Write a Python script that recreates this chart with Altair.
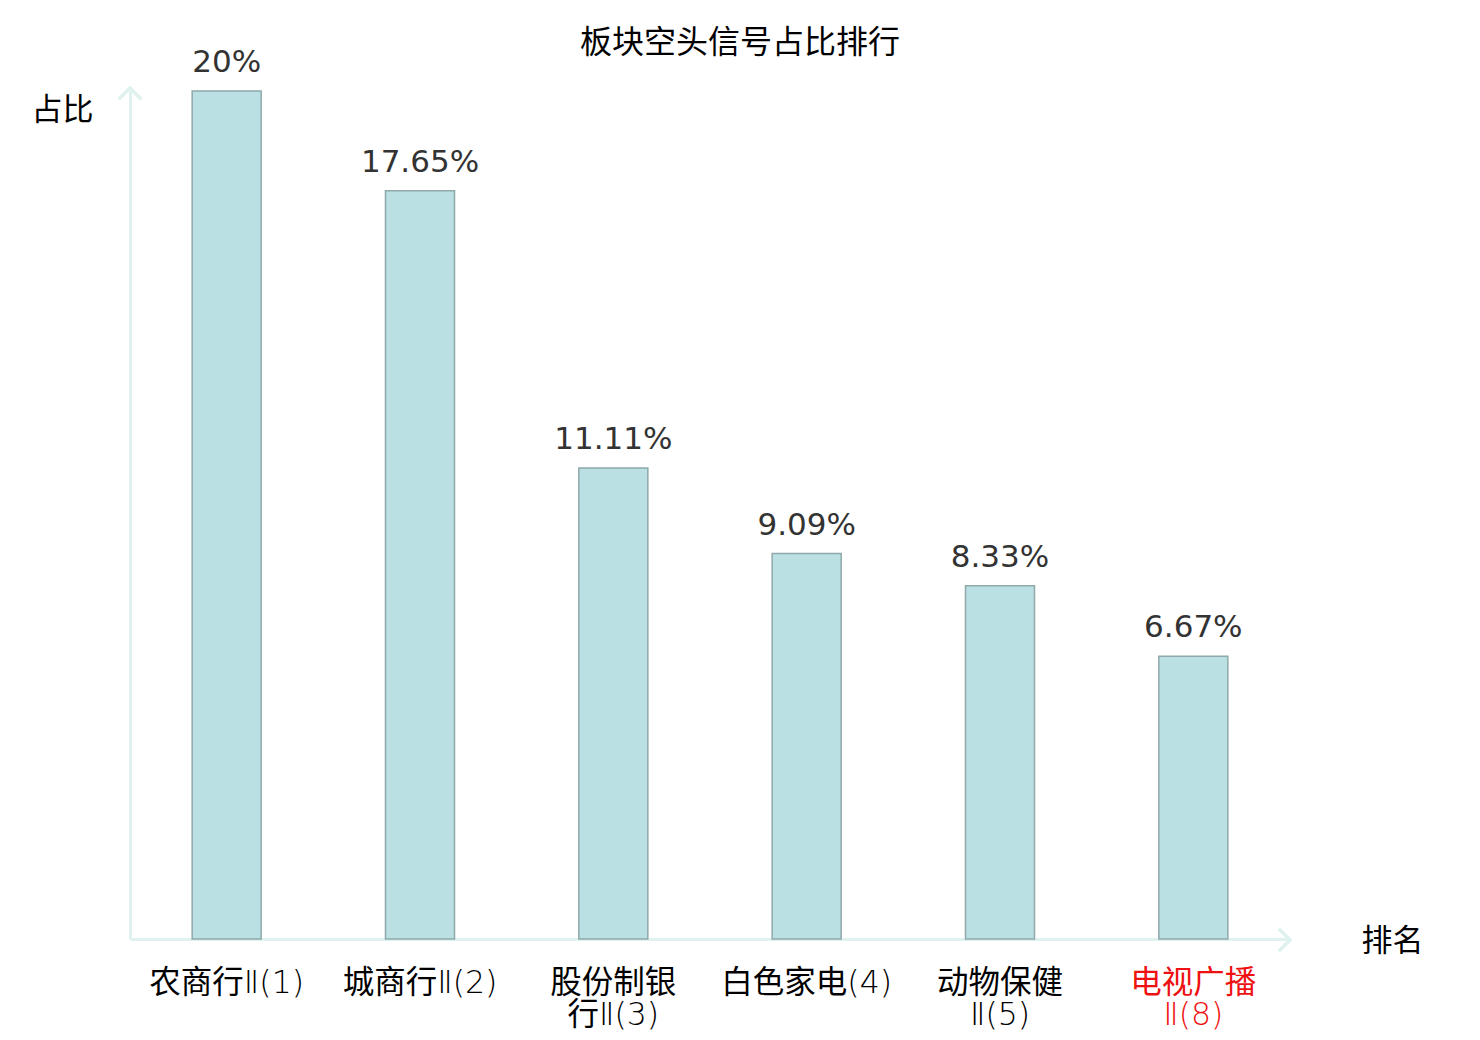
import altair as alt
import pandas as pd

categories = ["农商行Ⅱ(1)", "城商行Ⅱ(2)", "股份制银|行Ⅱ(3)", "白色家电(4)", "动物保健|Ⅱ(5)", "电视广播|Ⅱ(8)"]
values = [20, 17.65, 11.11, 9.09, 8.33, 6.67]
highlight = "电视广播|Ⅱ(8)"

df = pd.DataFrame({"name": categories, "value": values})

AXIS_COLOR = "#dff2ef"
CJK = "Noto Sans CJK SC"
LABEL_FONT = "'DejaVu Sans Light', 'DejaVu Sans', 'Noto Sans CJK SC'"

x_enc = alt.X(
    "name:N",
    sort=None,
    scale=alt.Scale(paddingInner=0.643, paddingOuter=0.3215),
    axis=alt.Axis(
        title="排名",
        titleFont=CJK,
        titleFontSize=31,
        titleFontWeight="normal",
        titleColor="#000000",
        titleAngle=0,
        titleAlign="left",
        titleBaseline="middle",
        titleX=1231,
        titleY=2,
        labelAngle=0,
        labelFont=LABEL_FONT,
        labelFontSize=31.5,
        labelLineHeight=32,
        labelPadding=28,
        labelBaseline="top",
        labelExpr="split(datum.label, '|')",
        labelColor=alt.ExprRef(expr=f"datum.value == '{highlight}' ? '#ee1111' : '#000000'"),
        domainColor=AXIS_COLOR,
        domainWidth=3,
        ticks=False,
        grid=False,
    ),
)

y_enc = alt.Y(
    "value:Q",
    scale=alt.Scale(domain=[0, 20], nice=False),
    axis=alt.Axis(
        title="占比",
        titleFont=CJK,
        titleFontSize=31,
        titleFontWeight="normal",
        titleColor="#000000",
        titleAngle=0,
        titleAlign="right",
        titleBaseline="middle",
        titleX=-37,
        titleY=19,
        labels=False,
        ticks=False,
        grid=False,
        domainColor=AXIS_COLOR,
        domainWidth=3,
    ),
)

base = alt.Chart(df)

bars = base.mark_bar(fill="#bbe0e3", stroke="#8fa9aa", strokeWidth=1.5).encode(x=x_enc, y=y_enc)

texts = base.transform_calculate(
    label="format(datum.value, '.4~') + '%'"
).mark_text(
    font="DejaVu Sans", fontSize=31, color="#333333", baseline="bottom", dy=-12
).encode(x=x_enc, y=y_enc, text="label:N")

up_arrow = base.mark_point(
    shape="M-1,1L0,0L1,1", filled=False, stroke=AXIS_COLOR, strokeWidth=3, size=500, opacity=1
).encode(x=alt.value(0), y=alt.value(-3))

right_arrow = base.mark_point(
    shape="M-1,-1L0,0L-1,1", filled=False, stroke=AXIS_COLOR, strokeWidth=3, size=500, opacity=1
).encode(x=alt.value(1160), y=alt.value(849))

chart = alt.layer(bars, texts, up_arrow, right_arrow).properties(
    width=1160,
    height=848,
    autosize=alt.AutoSizeParams(type="none"),
    padding={"left": 122, "top": 83, "right": 180, "bottom": 98},
    title=alt.TitleParams(
        text="板块空头信号占比排行",
        font=CJK,
        fontSize=32,
        fontWeight="normal",
        color="#000000",
        anchor="middle",
        dx=30,
        baseline="bottom",
        offset=-45,
    ),
).configure_view(stroke=None)

chart.save("out.html", embed_options={"renderer": "svg", "actions": False})
